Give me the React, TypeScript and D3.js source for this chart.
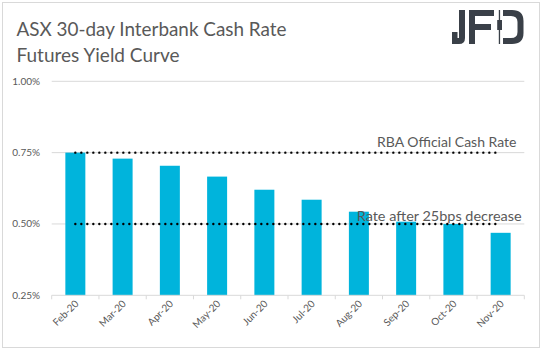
import React from 'react';
import * as d3 from 'd3';

// ASX 30-day interbank cash rate futures, implied yield (%)
const months = ['Feb-20', 'Mar-20', 'Apr-20', 'May-20', 'Jun-20', 'Jul-20', 'Aug-20', 'Sep-20', 'Oct-20', 'Nov-20'];
const yields = [0.75, 0.729, 0.704, 0.666, 0.62, 0.585, 0.543, 0.508, 0.5, 0.469];
const yTicks = [0.25, 0.5, 0.75, 1.0];
const refLines = [
  { label: 'RBA Official Cash Rate', value: 0.75 },
  { label: 'Rate after 25bps decrease', value: 0.5 },
];
const titleLines = ['ASX 30-day Interbank Cash Rate', 'Futures Yield Curve'];

const W = 543;
const H = 351;
const plot = { left: 51.7, right: 524.3, top: 81.3, bottom: 295.3 };
const textGray = '#595959';
const gridGray = '#d9d9d9';
const barBlue = '#00b4dc';
const font = 'Lato, "Open Sans", sans-serif';

const App = () => {
  const x = d3.scaleBand<string>()
    .domain(months)
    .range([plot.left, plot.right])
    .paddingInner(0.577)
    .paddingOuter(0.289);

  // band without padding, for tick marks and line positions
  const xBand = d3.scaleBand<string>()
    .domain(months)
    .range([plot.left, plot.right]);

  const y = d3.scaleLinear()
    .domain([0.25, 1.0])
    .range([plot.bottom, plot.top]);

  const center = (m: string) => (xBand(m) as number) + xBand.bandwidth() / 2;

  const refLine = d3.line<string>()
    .x(d => center(d));

  return (
    <svg
      width={W}
      height={H}
      viewBox={`0 0 ${W} ${H}`}
      style={{ position: 'absolute', left: 0, top: 0, background: '#fff' }}
      fontFamily={font}
    >
      <rect x={2.5} y={2.5} width={537} height={345} fill="#fff" stroke={gridGray} strokeWidth={1} />

      {/* title */}
      {titleLines.map((t, i) => (
        <text
          key={t}
          x={16.5}
          y={35.5 + i * 26.5}
          fontSize={20}
          fill={textGray}
          textLength={i === 0 ? 270 : 163}
          lengthAdjust="spacingAndGlyphs"
        >
          {t}
        </text>
      ))}

      {/* JFD logo */}
      <g fill="#3a4048">
        <path d="M459,10 H465 V38 Q465,44 459,44 H452 V32 H457.5 V38 H459 Z" />
        <path d="M469,10 H494 V16 H475 V24 H491 V30 H475 V44 H469 Z" />
        <rect x={498.8} y={10} width={1.3} height={34} />
        <rect x={497.2} y={20} width={4.8} height={10} />
        <path d="M503,10 H512 Q523.5,10 523.5,21 V33 Q523.5,44 512,44 H503 V38 H511 Q517.5,38 517.5,32 V22 Q517.5,16 511,16 H503 Z" />
      </g>

      {/* grid + y labels */}
      {yTicks.map(t => (
        <g key={t}>
          {t !== 0.25 && (
            <line x1={plot.left} x2={plot.right} y1={y(t)} y2={y(t)} stroke={gridGray} strokeWidth={1} />
          )}
          <text x={40} y={y(t)} dy="0.35em" textAnchor="end" fontSize={10} fill={textGray}>
            {d3.format('.2f')(t) + '%'}
          </text>
        </g>
      ))}

      {/* bars */}
      {months.map((m, i) => (
        <rect
          key={m}
          x={x(m)}
          y={y(yields[i])}
          width={x.bandwidth()}
          height={y(0.25) - y(yields[i])}
          fill={barBlue}
        />
      ))}

      {/* x axis */}
      <line x1={plot.left} x2={plot.right} y1={plot.bottom} y2={plot.bottom} stroke={gridGray} strokeWidth={1} />
      {[...months.map(m => xBand(m) as number), plot.right].map((tx, i) => (
        <line key={i} x1={tx} x2={tx} y1={plot.bottom} y2={plot.bottom + 4} stroke={gridGray} strokeWidth={1} />
      ))}
      {months.map(m => (
        <text
          key={m}
          transform={`translate(${center(m) + 4},${plot.bottom + 9}) rotate(-45)`}
          textAnchor="end"
          fontSize={10}
          fill={textGray}
        >
          {m}
        </text>
      ))}

      {/* reference dotted lines */}
      {refLines.map(r => (
        <path
          key={r.label}
          d={refLine.y(() => y(r.value))(months) as string}
          fill="none"
          stroke="#000"
          strokeWidth={2.4}
          strokeLinecap="round"
          strokeDasharray="0 6"
        />
      ))}
      <text x={516.5} y={147.3} textAnchor="end" fontSize={13} fill={textGray} textLength={139.5} lengthAdjust="spacingAndGlyphs">
        {refLines[0].label}
      </text>
      <text x={521.7} y={220.5} textAnchor="end" fontSize={13} fill={textGray} textLength={165} lengthAdjust="spacingAndGlyphs">
        {refLines[1].label}
      </text>
    </svg>
  );
};

export default App;
